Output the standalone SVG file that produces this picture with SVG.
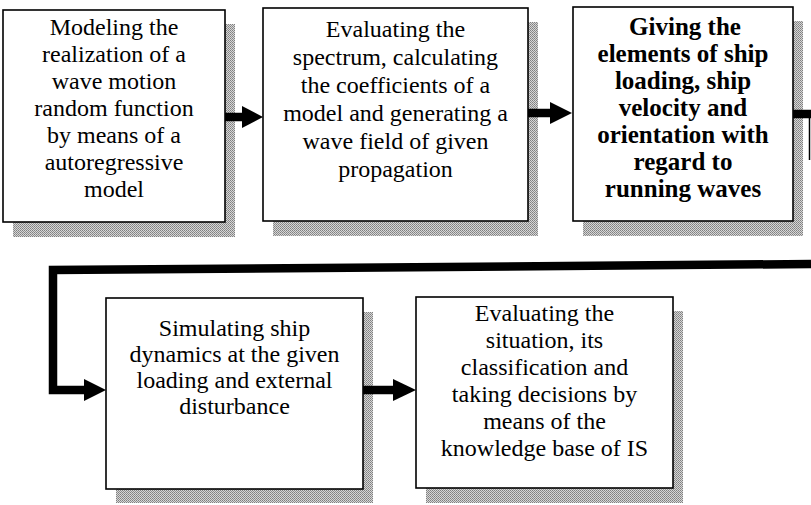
<svg xmlns="http://www.w3.org/2000/svg" width="811" height="505" viewBox="0 0 811 505">
<defs>
<pattern id="halftone" width="2" height="2" patternUnits="userSpaceOnUse">
<rect width="2" height="2" fill="#d6d6d6"/>
<rect width="1" height="1" fill="#808080"/>
<rect x="1" y="1" width="1" height="1" fill="#909090"/>
</pattern>
</defs>
<style>
.box{fill:#fff;stroke:#000;stroke-width:1.6}
.shadow{fill:url(#halftone)}
.t{font-family:"Liberation Serif","Times New Roman",serif;font-size:24px;fill:#000;text-anchor:middle}
.b{font-weight:bold;font-size:25px}
.line{fill:none;stroke:#000;stroke-width:8.5;stroke-linejoin:miter}
.head{fill:#000}
</style>
<rect width="811" height="505" fill="#fff"/>

<g id="node1">
<rect class="shadow" x="13" y="24" width="222" height="213"/>
<rect class="box" x="3" y="10" width="222" height="212"/>
<text class="t" x="114" y="35">Modeling the</text>
<text class="t" x="114" y="62">realization of a</text>
<text class="t" x="114" y="89">wave motion</text>
<text class="t" x="114" y="116">random function</text>
<text class="t" x="114" y="143">by means of a</text>
<text class="t" x="114" y="170">autoregressive</text>
<text class="t" x="114" y="197">model</text>
</g>

<g id="node2">
<rect class="shadow" x="273" y="22" width="265" height="214"/>
<rect class="box" x="263" y="8" width="265" height="213"/>
<text class="t" x="395.5" y="37">Evaluating the</text>
<text class="t" x="395.5" y="65">spectrum, calculating</text>
<text class="t" x="395.5" y="93">the coefficients of a</text>
<text class="t" x="395.5" y="121">model and generating a</text>
<text class="t" x="395.5" y="149">wave field of given</text>
<text class="t" x="395.5" y="177">propagation</text>
</g>

<g id="node3">
<rect class="shadow" x="583" y="21" width="220" height="215"/>
<rect class="box" x="573" y="7" width="220" height="214"/>
<text class="t b" x="685" y="35">Giving the</text>
<text class="t b" x="683" y="62">elements of ship</text>
<text class="t b" x="683" y="89">loading, ship</text>
<text class="t b" x="683" y="116">velocity and</text>
<text class="t b" x="683" y="143">orientation with</text>
<text class="t b" x="683" y="170">regard to</text>
<text class="t b" x="683" y="197">running waves</text>
</g>

<g id="node4">
<rect class="shadow" x="116" y="312" width="257" height="191"/>
<rect class="box" x="106" y="298" width="257" height="191"/>
<text class="t" x="234.5" y="336">Simulating ship</text>
<text class="t" x="234.5" y="362">dynamics at the given</text>
<text class="t" x="234.5" y="388">loading and external</text>
<text class="t" x="234.5" y="414">disturbance</text>
</g>

<g id="node5">
<rect class="shadow" x="426" y="311" width="257" height="192"/>
<rect class="box" x="416" y="297" width="257" height="191"/>
<text class="t" x="544.5" y="321">Evaluating the</text>
<text class="t" x="544.5" y="348">situation, its</text>
<text class="t" x="544.5" y="375">classification and</text>
<text class="t" x="544.5" y="402">taking decisions by</text>
<text class="t" x="544.5" y="429">means of the</text>
<text class="t" x="544.5" y="456">knowledge base of IS</text>
</g>

<g id="connectors">
<line class="line" x1="225" y1="117" x2="244" y2="117"/>
<polygon class="head" points="242,106 263,117 242,128"/>
<line class="line" x1="528" y1="113" x2="552" y2="113"/>
<polygon class="head" points="550,102 572,113 550,124"/>
<line class="line" x1="793" y1="114" x2="811" y2="114"/>
<line x1="809.5" y1="114" x2="809.5" y2="160" stroke="#000" stroke-width="1.5"/>
<path class="line" d="M811,264 L53,270 L53,390 L86,390"/>
<polygon class="head" points="84,379 106,390 84,401"/>
<line class="line" x1="363" y1="390" x2="395" y2="390"/>
<polygon class="head" points="393,379 416,390 393,401"/>
</g>
</svg>
